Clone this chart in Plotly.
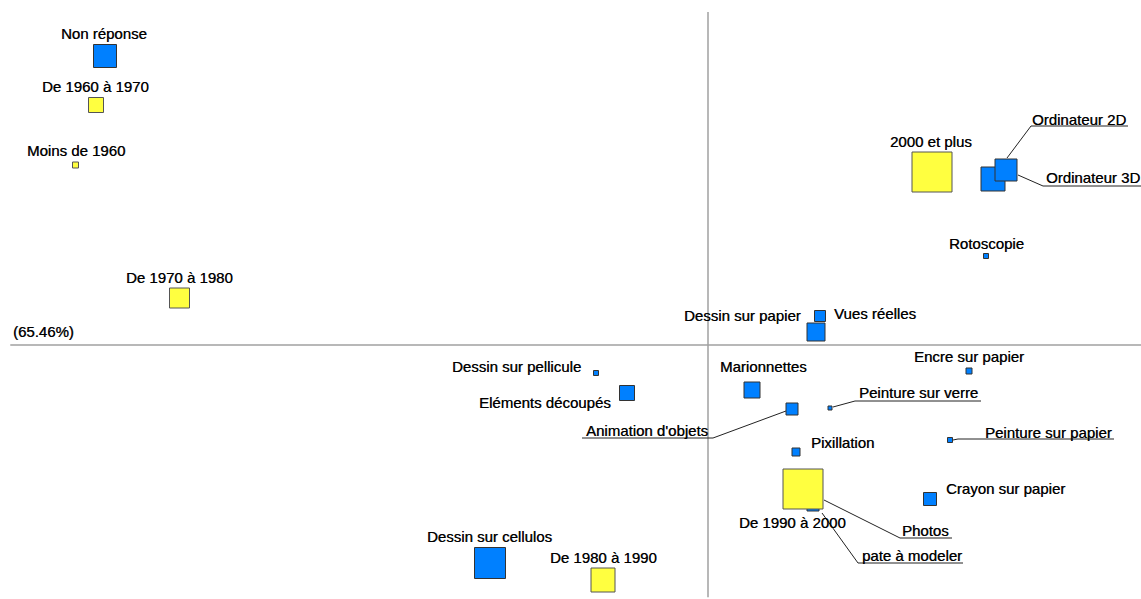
import plotly.graph_objects as go

# ---- data: factor coordinates (axis 1, axis 2) and marker weights ----
tech_names = ["Non réponse", "Ordinateur 3D", "Ordinateur 2D", "Rotoscopie", "Vues réelles",
              "Dessin sur papier", "Dessin sur pellicule", "Eléments découpés", "Marionnettes",
              "Animation d'objets", "Peinture sur verre", "Encre sur papier", "Peinture sur papier",
              "Pixillation", "Photos", "pate à modeler", "Crayon sur papier", "Dessin sur cellulos"]
tech_x = [-6.03, 2.85, 2.98, 2.78, 1.12, 1.08, -1.12, -0.81, 0.44, 0.84, 1.22, 2.61, 2.42,
          0.88, 1.04, 1.05, 2.22, -2.18]
tech_y = [2.89, 1.66, 1.75, 0.89, 0.29, 0.13, -0.28, -0.48, -0.45, -0.64, -0.63, -0.26, -0.95,
          -1.07, -1.49, -1.60, -1.54, -2.18]
tech_w = [23, 24, 22, 5, 11, 18, 5, 15, 16, 12, 4, 6, 5, 8, 13, 12, 13, 31]

decade_names = ["Moins de 1960", "De 1960 à 1970", "De 1970 à 1980", "De 1980 à 1990",
                "De 1990 à 2000", "2000 et plus"]
decade_x = [-6.325, -6.12, -5.285, -1.05, 0.95, 2.24]
decade_y = [1.80, 2.40, 0.47, -2.35, -1.44, 1.73]
decade_w = [6, 15, 20, 24, 40, 40]

axis_label = "(65.46%)"

# ---- layout: label offsets in pixels (dx right, dy down) ----
PX = 100.0  # pixels per axis unit
label_off = {
    "Non réponse": (-1, -23), "De 1960 à 1970": (-1, -19), "Moins de 1960": (0, -15),
    "De 1970 à 1980": (0, -21), "2000 et plus": (-1, -31), "Rotoscopie": (0, -13),
    "Dessin sur papier": (-74, -17), "Vues réelles": (55, -3), "Dessin sur pellicule": (-80, -7),
    "Eléments découpés": (-82, 9), "Marionnettes": (11, -24), "Encre sur papier": (0, -15),
    "Pixillation": (46, -9.5), "Crayon sur papier": (75, -11), "De 1990 à 2000": (-10.5, 33),
    "Dessin sur cellulos": (-1, -27), "De 1980 à 1990": (0, -23),
}
# leader labels: text offset, line start, elbow, underline end (pixels from point)
leaders = {
    "Ordinateur 2D": ((73, -51), (1, -12), (25, -44), (122, -44)),
    "Ordinateur 3D": ((100, -2), (25, -4), (50, 7), (148, 7)),
    "Animation d'objets": ((-145, 21), (-6, 2), (-79, 29), (-210, 29)),
    "Peinture sur verre": ((88, -16), (3, -1), (25, -7), (151, -7)),
    "Peinture sur papier": ((98, -8), (3, 0), (8, -1), (164, -1)),
    "Photos": ((113, 36), (12, 6), (88, 44), (140, 44)),
    "pate à modeler": ((99, 50), (9, 8), (45, 58), (150, 58)),
}

BLUE = "#0080ff"
YELLOW = "#ffff40"
FONT = dict(family="Liberation Sans, Arial, sans-serif", size=15, color="#000000",
            shadow="0.4px 0px 0px rgba(0,0,0,0.7)")

fig = go.Figure()
fig.add_trace(go.Scatter(x=tech_x, y=tech_y, mode="markers", text=tech_names,
                         marker=dict(symbol="square", size=tech_w, color=BLUE, opacity=1,
                                     line=dict(color="#333333", width=1)),
                         hoverinfo="text"))
fig.add_trace(go.Scatter(x=decade_x, y=decade_y, mode="markers", text=decade_names,
                         marker=dict(symbol="square", size=decade_w, color=YELLOW, opacity=1,
                                     line=dict(color="#555555", width=1)),
                         hoverinfo="text"))

points = {}
for n, x, y in zip(tech_names, tech_x, tech_y):
    points[n] = (x, y)
for n, x, y in zip(decade_names, decade_x, decade_y):
    points[n] = (x, y)

annotations = []
shapes = []
for name, (dx, dy) in label_off.items():
    x, y = points[name]
    annotations.append(dict(x=x, y=y, xref="x", yref="y", text=name, showarrow=False,
                            xshift=dx, yshift=-dy, font=FONT, xanchor="center", yanchor="middle"))

def P(pt, off):
    return pt[0] + off[0] / PX, pt[1] - off[1] / PX

for name, (toff, s, e, u) in leaders.items():
    pt = points[name]
    x, y = pt
    annotations.append(dict(x=x, y=y, xref="x", yref="y", text=name, showarrow=False,
                            xshift=toff[0], yshift=-toff[1], font=FONT,
                            xanchor="center", yanchor="middle"))
    a, b, c = P(pt, s), P(pt, e), P(pt, u)
    shapes.append(dict(type="path", xref="x", yref="y",
                       path=f"M{a[0]},{a[1]} L{b[0]},{b[1]} L{c[0]},{c[1]}",
                       line=dict(color="#222222", width=1), layer="below"))

# axes through origin
shapes.append(dict(type="line", xref="x", yref="paper", x0=0, x1=0, y0=0.003, y1=0.98,
                   line=dict(color="#a0a0a0", width=1.5), layer="below"))
shapes.append(dict(type="line", xref="paper", yref="y", x0=0.009, x1=1, y0=0, y1=0,
                   line=dict(color="#a0a0a0", width=1.5), layer="below"))
annotations.append(dict(x=0.01, y=0, xref="paper", yref="y", text=axis_label, showarrow=False,
                        xanchor="left", yanchor="middle", yshift=14, font=FONT))

fig.update_layout(
    width=1141, height=599, margin=dict(l=0, r=0, t=0, b=0),
    paper_bgcolor="white", plot_bgcolor="white", showlegend=False,
    xaxis=dict(range=[-7.08, 4.33], visible=False, fixedrange=True),
    yaxis=dict(range=[-2.54, 3.45], visible=False, fixedrange=True),
    annotations=annotations, shapes=shapes,
)
fig.write_html("out.html", config={"displayModeBar": False},
               post_script="document.body.style.margin='0px';document.body.style.overflow='hidden';")
